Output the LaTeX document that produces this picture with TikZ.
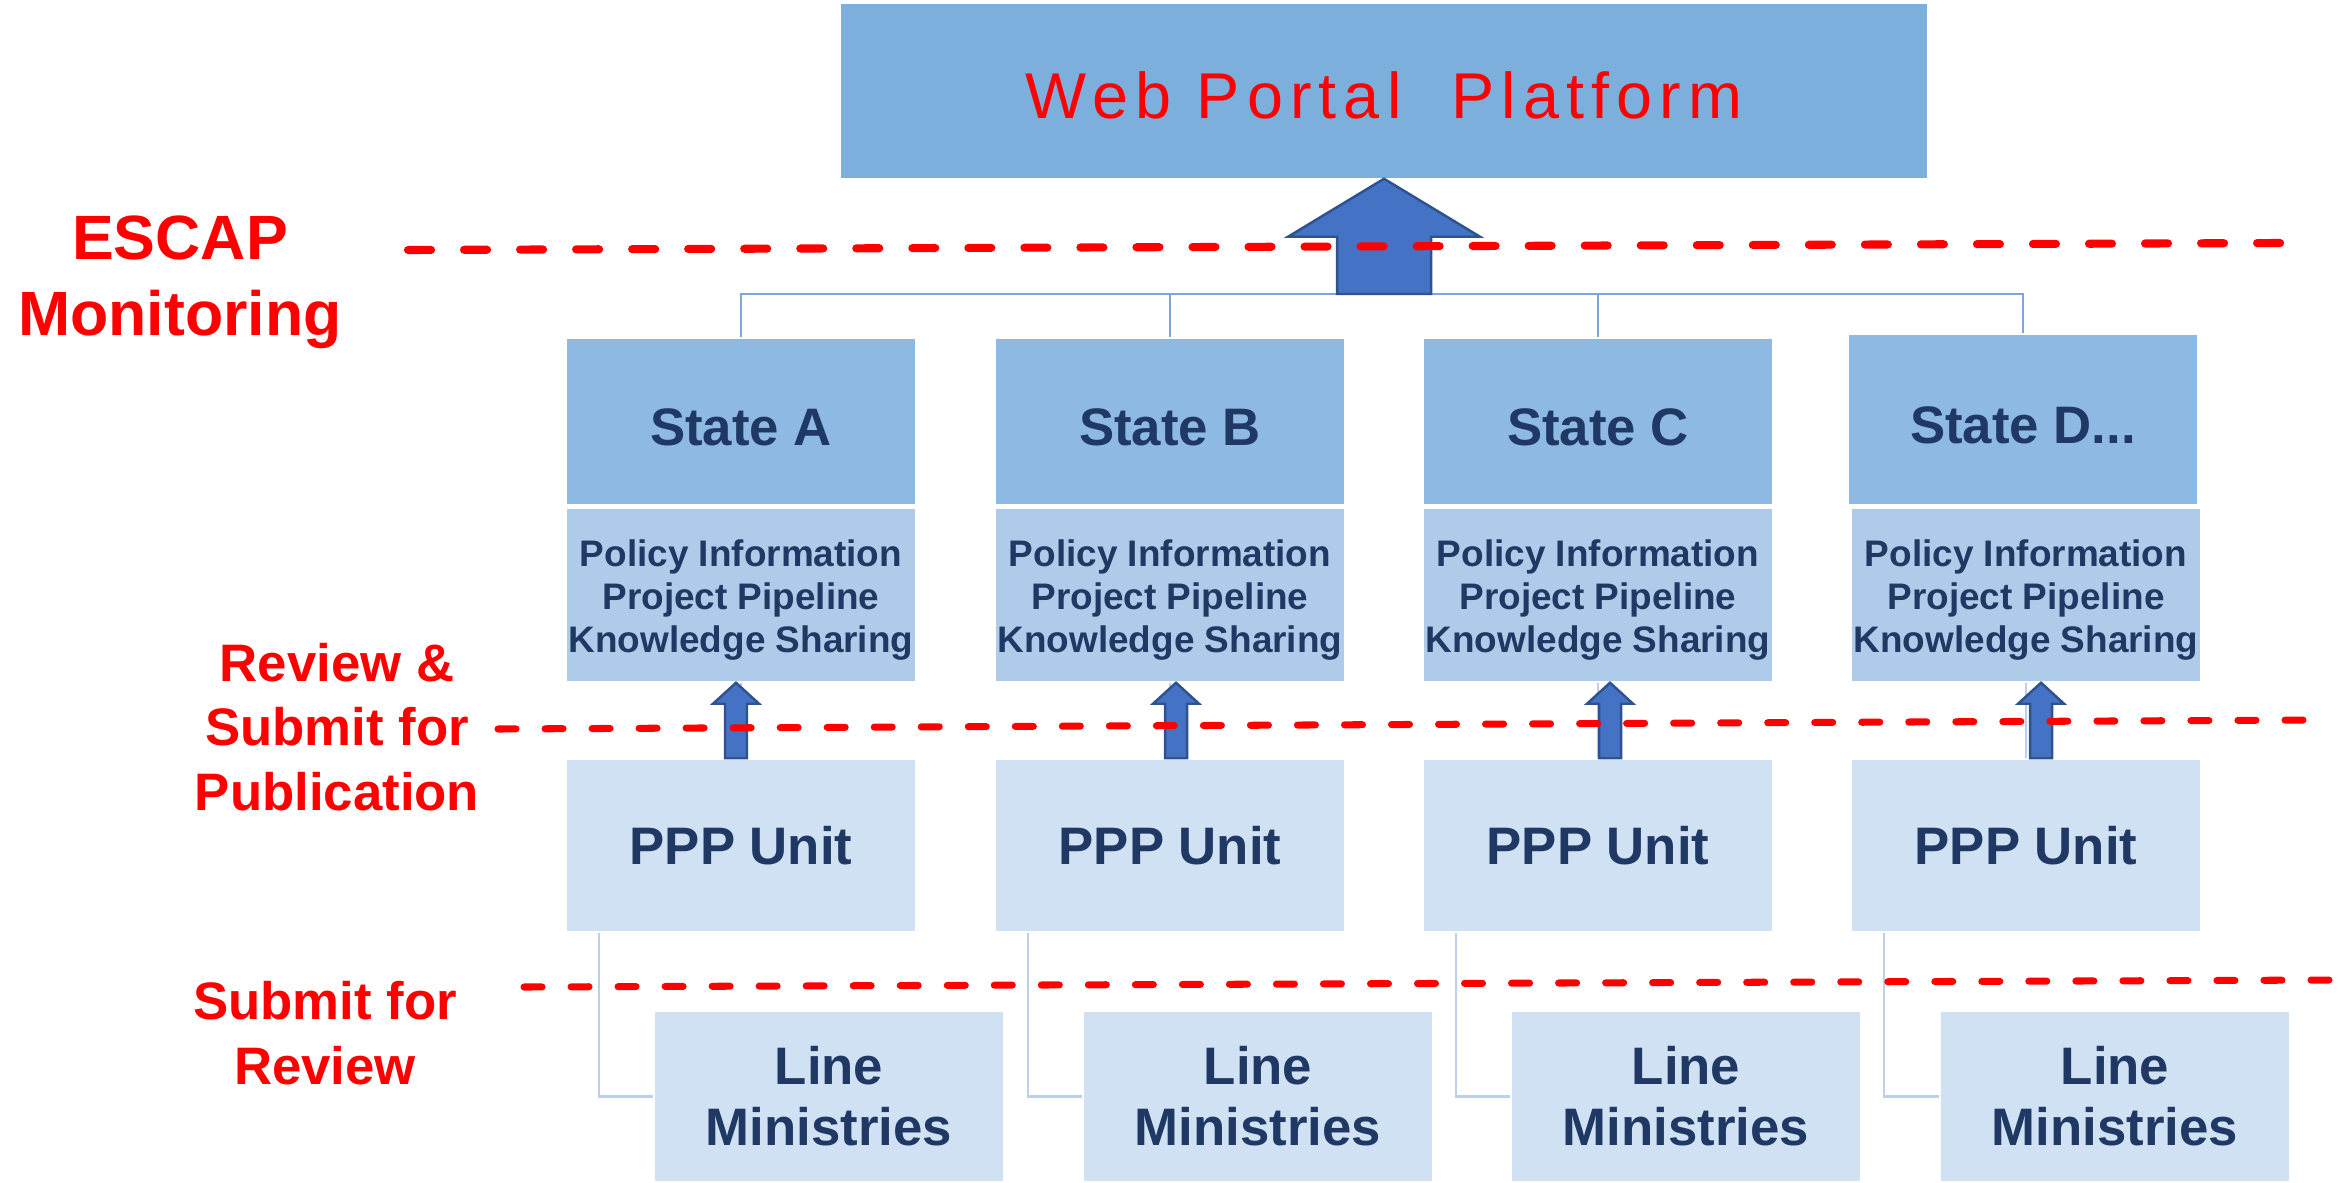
\documentclass[tikz,border=0pt]{standalone}
\usepackage{fontspec}
\setmainfont{Liberation Sans}
\newfontfamily\portalfont[LetterSpace=11]{Liberation Sans}
\usetikzlibrary{calc}

\definecolor{portalblue}{RGB}{125,175,221}
\definecolor{stateblue}{RGB}{141,185,226}
\definecolor{infoblue}{RGB}{174,204,233}
\definecolor{paleblue}{RGB}{207,225,242}
\definecolor{navy}{RGB}{31,56,100}
\definecolor{treeblue}{RGB}{126,166,218}
\definecolor{feedblue}{RGB}{189,208,234}
\definecolor{arrowblue}{RGB}{68,114,196}
\definecolor{arrowedge}{RGB}{47,82,143}

\tikzset{
  box/.style={rectangle, draw=white, line width=0.4pt, inner sep=0pt,
    minimum width=3.5cm, align=center, text=navy,
    font=\bfseries\fontsize{15}{18}\selectfont},
  statebox/.style={box, fill=stateblue, minimum height=1.67cm,
    text height=13.4pt, text depth=0pt},
  infobox/.style={box, fill=infoblue, minimum height=1.74cm,
    text height=34.7pt, text depth=2.2pt,
    font=\bfseries\fontsize{10.5}{12.2}\selectfont},
  unitbox/.style={box, fill=paleblue, minimum height=1.73cm},
  ministrybox/.style={box, fill=paleblue, minimum height=1.71cm,
    font=\bfseries\fontsize{15}{17.3}\selectfont},
  stagelabel/.style={text=red, align=center,
    font=\bfseries\fontsize{15}{18.4}\selectfont},
  stageline/.style={red, line width=2pt, line cap=round,
    dash pattern=on 0.18cm off 0.29cm},
  treeline/.style={draw=treeblue, line width=0.6pt},
  feedline/.style={draw=feedblue, line width=0.7pt},
  blockarrow/.style={fill=arrowblue, draw=arrowedge, line width=0.7pt},
}

% foot, tip, shaft half width, head half width, head length
\newcommand\blockup[5]{%
  \draw[blockarrow] ($(#1)+(-#3,0)$) -- ($(#2)+(-#3,#5)$) -- ($(#2)+(-#4,#5)$)
    -- (#2) -- ($(#2)+(#4,#5)$) -- ($(#2)+(#3,#5)$) -- ($(#1)+(#3,0)$) -- cycle;}

\begin{document}
\begin{tikzpicture}[x=0.01cm, y=-0.01cm]
  \useasboundingbox (0,0) rectangle (2346,1182);

  % platform
  \node[rectangle, fill=portalblue, minimum width=10.86cm, minimum height=1.74cm,
    text=red, text height=15.9pt, text depth=0pt,
    font=\portalfont\fontsize{18.4}{22}\selectfont]
    (portal) at (1384,91) {Web Portal\ \ Platform};

  % states
  \node[statebox] (stA) at (741,421.5) {State A};
  \node[statebox] (stB) at (1170,421.5) {State B};
  \node[statebox] (stC) at (1598,421.5) {State C};
  \node[statebox, minimum height=1.71cm] (stD) at (2023,419.5) {State D...};

  \node[infobox] (inA) at (741,595) {Policy Information\\Project Pipeline\\Knowledge Sharing};
  \node[infobox] (inB) at (1170,595) {Policy Information\\Project Pipeline\\Knowledge Sharing};
  \node[infobox] (inC) at (1598,595) {Policy Information\\Project Pipeline\\Knowledge Sharing};
  \node[infobox] (inD) at (2026,595) {Policy Information\\Project Pipeline\\Knowledge Sharing};

  \node[unitbox] (ppA) at (741,845.5) {PPP Unit};
  \node[unitbox] (ppB) at (1170,845.5) {PPP Unit};
  \node[unitbox] (ppC) at (1598,845.5) {PPP Unit};
  \node[unitbox] (ppD) at (2026,845.5) {PPP Unit};

  \node[ministrybox] (lmA) at (829,1096.5) {Line\\Ministries};
  \node[ministrybox] (lmB) at (1258,1096.5) {Line\\Ministries};
  \node[ministrybox] (lmC) at (1686,1096.5) {Line\\Ministries};
  \node[ministrybox] (lmD) at (2115,1096.5) {Line\\Ministries};

  % stage labels
  \node[stagelabel, font=\bfseries\fontsize{17.8}{21.5}\selectfont]
    (monitor) at (180,282) {ESCAP\\Monitoring};
  \node[stagelabel] (publish) at (337,727) {Review \&\\Submit for\\Publication};
  \node[stagelabel] (submit) at (325,1033) {Submit for\\Review};

  \coordinate (hub) at (1384,294);

  \begin{scope}[-]
    \draw[treeline] (stA.north) |- (hub) -| (stD.north);
    \draw[treeline] (stB.north) -- (stB.north |- hub);
    \draw[treeline] (stC.north) -- (stC.north |- hub);

    \draw[feedline] (ppA.north) -- (inA.south);
    \draw[feedline] (ppB.north) -- (inB.south);
    \draw[feedline] (ppC.north) -- (inC.south);
    \draw[feedline] (ppD.north) -- (inD.south);

    \draw[feedline] ([xshift=0.34cm]ppA.south west) |- (lmA.west);
    \draw[feedline] ([xshift=0.34cm]ppB.south west) |- (lmB.west);
    \draw[feedline] ([xshift=0.34cm]ppC.south west) |- (lmC.west);
    \draw[feedline] ([xshift=0.34cm]ppD.south west) |- (lmD.west);
  \end{scope}

  % block arrows
  \blockup{hub}{portal.south}{47}{96}{58}
  \coordinate (ftA) at ([xshift=-0.05cm]ppA.north);
  \coordinate (ftB) at ([xshift=0.06cm]ppB.north);
  \coordinate (ftC) at ([xshift=0.12cm]ppC.north);
  \coordinate (ftD) at ([xshift=0.15cm]ppD.north);
  \blockup{ftA}{ftA |- inA.south}{11}{23}{21}
  \blockup{ftB}{ftB |- inB.south}{11}{23}{21}
  \blockup{ftC}{ftC |- inC.south}{11}{23}{21}
  \blockup{ftD}{ftD |- inD.south}{11}{23}{21}

  % stage borders
  \draw[stageline, line width=2.3pt, dash pattern=on 0.23cm off 0.33cm] (408,250) -- (2282,243);
  \draw[stageline] (498,729) -- (2312,720);
  \draw[stageline] (524,987) -- (2334,980);
\end{tikzpicture}
\end{document}
